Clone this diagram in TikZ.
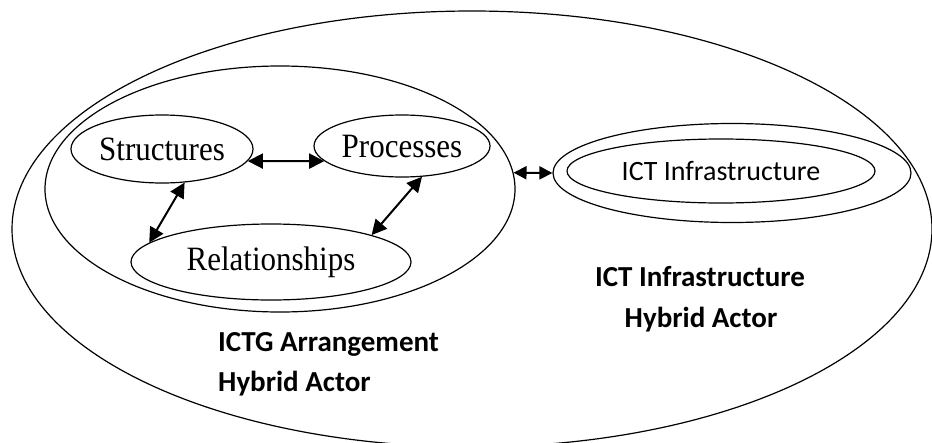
\documentclass[tikz,border=0pt]{standalone}
\usepackage{fontspec}
\setmainfont{Liberation Serif}
\newfontfamily\calibri{Carlito}
\usetikzlibrary{shapes.geometric,arrows.meta}
% slightly tall serif lettering for the element names
\newcommand{\tallterm}[1]{\scalebox{1}[1.1]{#1}}
\begin{document}
\begin{tikzpicture}[x=1pt,y=-1pt,
  oval/.style={ellipse,draw,line width=1.2pt,inner sep=0pt},
  termfont/.style={inner xsep=-10pt,font=\fontsize{31}{37}\selectfont},
  ictfont/.style={font=\calibri\fontsize{28}{34}\selectfont},
  actorfont/.style={inner sep=0pt,font=\calibri\bfseries\fontsize{29}{35}\selectfont},
  link/.style={line width=2pt,
    {Triangle[length=15pt,width=15pt]}-{Triangle[length=15pt,width=15pt]}},
  shortlink/.style={line width=2pt,
    {Triangle[length=13pt,width=13pt]}-{Triangle[length=13pt,width=13pt]}},
]
% canvas
\fill[white] (0,0) rectangle (932,442);
\useasboundingbox (0,0) rectangle (932,442);

% outer hybrid-actor boundary, running past the lower edge
\begin{scope}
  \clip (0,0) rectangle (932,442);
  \node[oval,minimum width=920pt,minimum height=436pt] (hybrid) at (472,229) {};
\end{scope}

% ICTG arrangement and its three elements
\node[oval,minimum width=470pt,minimum height=246pt] (arr) at (280,189) {};
\node[oval,termfont,minimum width=182pt,minimum height=68pt] (str) at (162,149) {\tallterm{Structures}};
\node[oval,termfont,minimum width=176pt,minimum height=62pt] (proc) at (402,146) {\tallterm{Processes}};
\node[oval,termfont,minimum width=280pt,minimum height=76pt] (rel) at (271,262) {\tallterm{Relationships}};

% ICT infrastructure
\node[oval,minimum width=358pt,minimum height=99pt] (ictout) at (732,173) {};
\node[oval,ictfont,minimum width=308pt,minimum height=64pt] (ictin) at (721,171) {ICT Infrastructure};

% interactions
\draw[link] (str.-8) -- (proc.191);
\draw[link] (str.-56) -- (rel.171);
\draw[link] (proc.-57) -- (rel.15);
\draw[shortlink] (arr.4) -- (ictout.west);

% actor captions
\node[actorfont,anchor=base west] (arrcap1) at (218,351) {ICTG Arrangement};
\node[actorfont,anchor=base west] (arrcap2) at (218,391) {Hybrid Actor};
\node[actorfont,anchor=base] (ictcap1) at (700,286) {ICT Infrastructure};
\node[actorfont,anchor=base] (ictcap2) at (701,327) {Hybrid Actor};
\end{tikzpicture}
\end{document}
